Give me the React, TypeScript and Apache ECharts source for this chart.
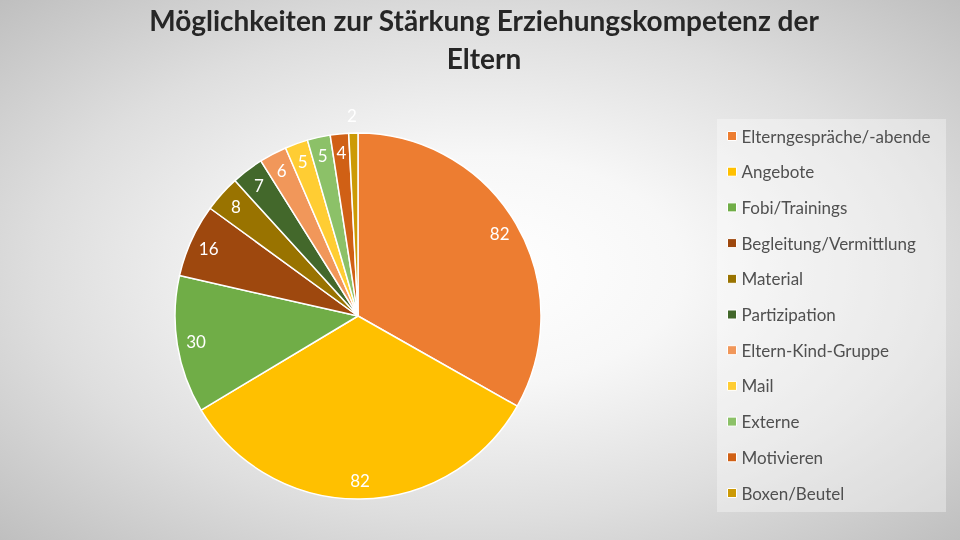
import { useEffect, useRef } from "react";
import * as echarts from "echarts";

// Chart data
const TITLE_LINES = ["Möglichkeiten zur Stärkung Erziehungskompetenz der", "Eltern"];

const categories = [
  "Elterngespräche/-abende",
  "Angebote",
  "Fobi/Trainings",
  "Begleitung/Vermittlung",
  "Material",
  "Partizipation",
  "Eltern-Kind-Gruppe",
  "Mail",
  "Externe",
  "Motivieren",
  "Boxen/Beutel",
];

const values = [82, 82, 30, 16, 8, 7, 6, 5, 5, 4, 2];

// Office palette (accent 2 / 4 / 6 with darker and lighter shades)
const palette = [
  "#ED7D31",
  "#FFC000",
  "#70AD47",
  "#9E480E",
  "#997300",
  "#43682B",
  "#F1975A",
  "#FFCD33",
  "#8CC168",
  "#D06015",
  "#CC9A06",
];

const FONT = "Lato, 'Open Sans', sans-serif";

export default function App() {
  const chartRef = useRef<HTMLDivElement>(null);

  useEffect(() => {
    if (!chartRef.current) return;
    const chart = echarts.init(chartRef.current, null, { renderer: "svg" });

    const center = [358, 316];
    const radius = 183;

    chart.setOption({
      animation: false,
      backgroundColor: "transparent",
      color: palette,
      title: {
        text: TITLE_LINES.join("\n"),
        left: 479,
        textAlign: "center",
        top: -4,
        textStyle: {
          fontFamily: FONT,
          fontWeight: "bold",
          fontSize: 28,
          lineHeight: 38,
          color: "#262626",
        },
      },
      graphic: [
        {
          type: "rect",
          left: 717,
          top: 119,
          shape: { width: 229, height: 393 },
          style: { fill: "rgba(255,255,255,0.35)" },
          silent: true,
        },
      ],
      legend: {
        orient: "vertical",
        left: 727,
        top: 127,
        padding: 0,
        itemWidth: 9,
        itemHeight: 9,
        itemGap: 17.7,
        icon: "rect",
        data: categories,
        itemStyle: { borderColor: "#fff", borderWidth: 1 },
        textStyle: {
          fontFamily: FONT,
          fontSize: 17,
          lineHeight: 18,
          color: "#505050",
        },
      },
      series: [
        {
          name: "main",
          type: "pie",
          center,
          radius: [0, radius],
          startAngle: 90,
          clockwise: true,
          silent: true,
          label: { show: false },
          labelLine: { show: false },
          itemStyle: { borderColor: "#fff", borderWidth: 1.5 },
          data: categories.map((name, i) => ({ name, value: values[i] })),
        },
        {
          name: "labels",
          type: "pie",
          center,
          radius: [radius * 0.76, radius],
          startAngle: 90,
          clockwise: true,
          silent: true,
          legendHoverLink: false,
          itemStyle: { color: "transparent", borderWidth: 0 },
          labelLine: { show: false },
          label: {
            show: true,
            position: "inside",
            formatter: "{c}",
            color: "#fff",
            fontFamily: FONT,
            fontSize: 17,
          },
          data: categories.map((name, i) => ({
            name: name + " ",
            value: values[i],
            label:
              i === categories.length - 1
                ? { offset: [-2, -37] }
                : undefined,
          })),
        },
      ],
    });

    return () => chart.dispose();
  }, []);

  return (
    <div
      style={{
        position: "fixed",
        left: 0,
        top: 0,
        width: 960,
        height: 540,
        background:
          "radial-gradient(ellipse farthest-corner at 50% 50%, #ffffff 0%, #f7f7f7 30%, #dedede 65%, #bfbfbf 100%)",
      }}
    >
      <div ref={chartRef} style={{ width: 960, height: 540 }} />
    </div>
  );
}
